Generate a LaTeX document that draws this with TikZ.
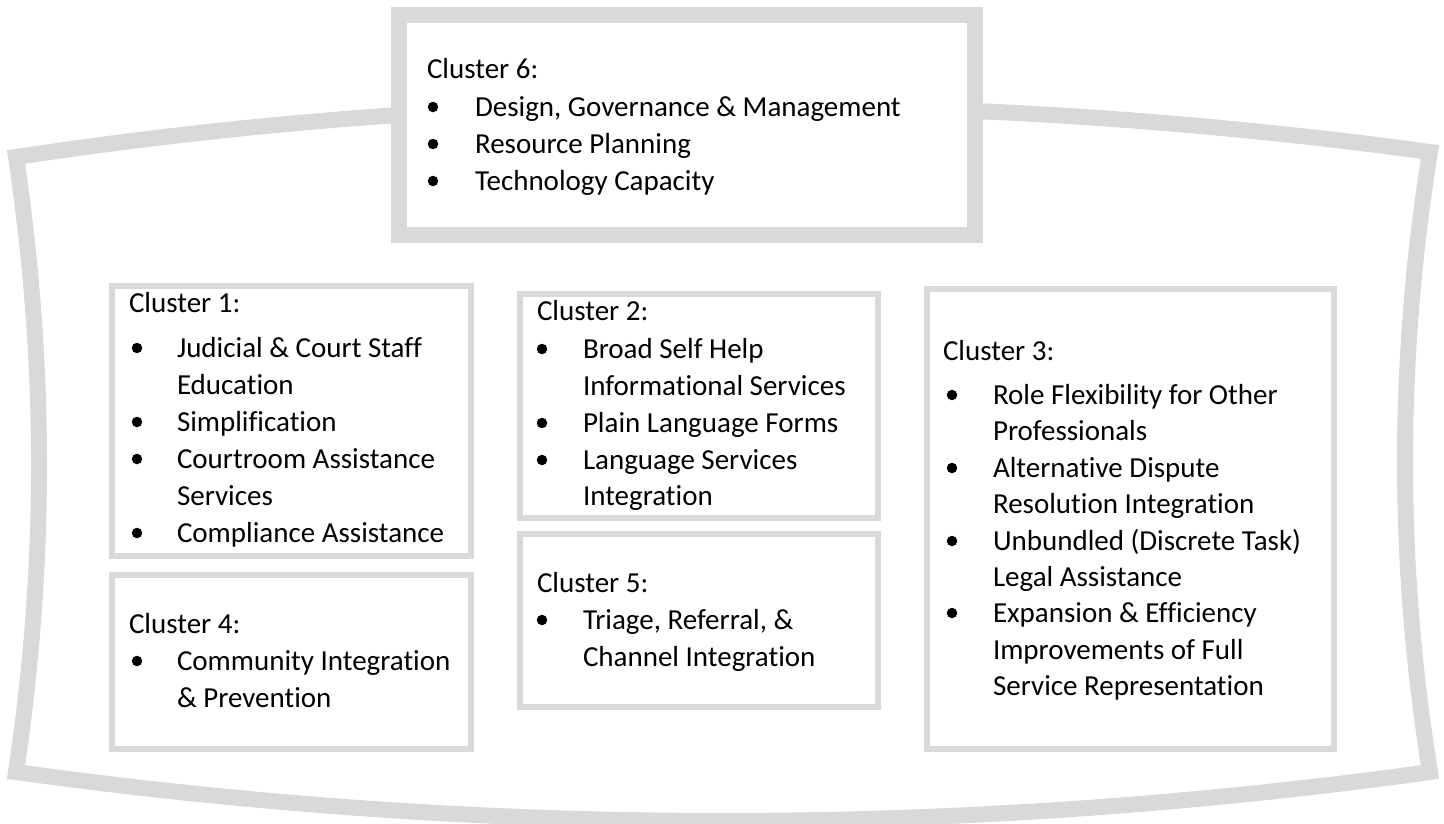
\documentclass[tikz,border=0pt]{standalone}
\usepackage{fontspec}
\setmainfont{Carlito}[Ligatures={NoCommon}]
\definecolor{lg}{RGB}{217,217,217}
\tikzset{
  txt/.style={anchor=base west, inner sep=0pt, outer sep=0pt, font=\fontsize{29pt}{35pt}\selectfont},
  bul/.style={circle, fill=black, minimum size=10.5pt, inner sep=0pt},
  frame/.style={draw=lg, line width=16pt, line join=miter},
  bigbox/.style={draw=lg, line width=16pt, fill=white},
  cbox/.style={draw=lg, line width=6pt, fill=white}
}
\newcommand\hdg[4]{\node[txt] (#1) at (#2,#3) {#4};}
\newcommand\blt[5]{\node[bul] (#1b) at (#2,#4-9) {};\node[txt] (#1) at (#3,#4) {#5};}
\begin{document}
\begin{tikzpicture}[x=1pt,y=-1pt]
\useasboundingbox (0,0) rectangle (1444,823);
% outer frame
\draw[frame] (399,115) .. controls (271.3,123.7) and (143.7,137.7) .. (16,157)
  .. controls (46.7,362.3) and (46.7,567.3) .. (16,772)
  .. controls (487.3,837.3) and (958.7,837.3) .. (1430,772)
  .. controls (1396.7,565.3) and (1396.7,358.7) .. (1430,152)
  .. controls (1278.7,131.3) and (1126.3,117.7) .. (975,111);
% cluster 6
\draw[bigbox] (399,15) rectangle (975,235);
\hdg{c6}{427}{78}{Cluster 6:}
\blt{c6a}{433}{475}{116}{Design, Governance \& Management}
\blt{c6b}{433}{475}{153}{Resource Planning}
\blt{c6c}{433}{475}{190}{Technology Capacity}
% cluster 1
\draw[cbox] (112,286) rectangle (471,556);
\hdg{c1}{129}{312}{Cluster 1:}
\blt{c1a}{137}{177}{357}{Judicial \& Court Staff}
\hdg{c1a2}{177}{394}{Education}
\blt{c1b}{137}{177}{431}{Simplification}
\blt{c1c}{137}{177}{468}{Courtroom Assistance}
\hdg{c1c2}{177}{505}{Services}
\blt{c1d}{137}{177}{542}{Compliance Assistance}
% cluster 4
\draw[cbox] (112,575) rectangle (471,749);
\hdg{c4}{129}{633}{Cluster 4:}
\blt{c4a}{137}{177}{670}{Community Integration}
\hdg{c4a2}{177}{707}{\& Prevention}
% cluster 2
\draw[cbox] (520,294) rectangle (878,518);
\hdg{c2}{537}{320}{Cluster 2:}
\blt{c2a}{542}{583}{358}{Broad Self Help}
\hdg{c2a2}{583}{395}{Informational Services}
\blt{c2b}{542}{583}{432}{Plain Language Forms}
\blt{c2c}{542}{583}{469}{Language Services}
\hdg{c2c2}{583}{505}{Integration}
% cluster 5
\draw[cbox] (520,534) rectangle (878,707);
\hdg{c5}{537}{592}{Cluster 5:}
\blt{c5a}{542}{583}{629}{Triage, Referral, \&}
\hdg{c5a2}{583}{666}{Channel Integration}
% cluster 3
\draw[cbox] (927,289) rectangle (1334,749);
\hdg{c3}{943}{360}{Cluster 3:}
\blt{c3a}{952}{993}{404}{Role Flexibility for Other}
\hdg{c3a2}{993}{440}{Professionals}
\blt{c3b}{952}{993}{477}{Alternative Dispute}
\hdg{c3b2}{993}{513}{Resolution Integration}
\blt{c3c}{952}{993}{550}{Unbundled (Discrete Task)}
\hdg{c3c2}{993}{586}{Legal Assistance}
\blt{c3d}{952}{993}{622}{Expansion \& Efficiency}
\hdg{c3d2}{993}{659}{Improvements of Full}
\hdg{c3d3}{993}{695}{Service Representation}
\end{tikzpicture}
\end{document}
